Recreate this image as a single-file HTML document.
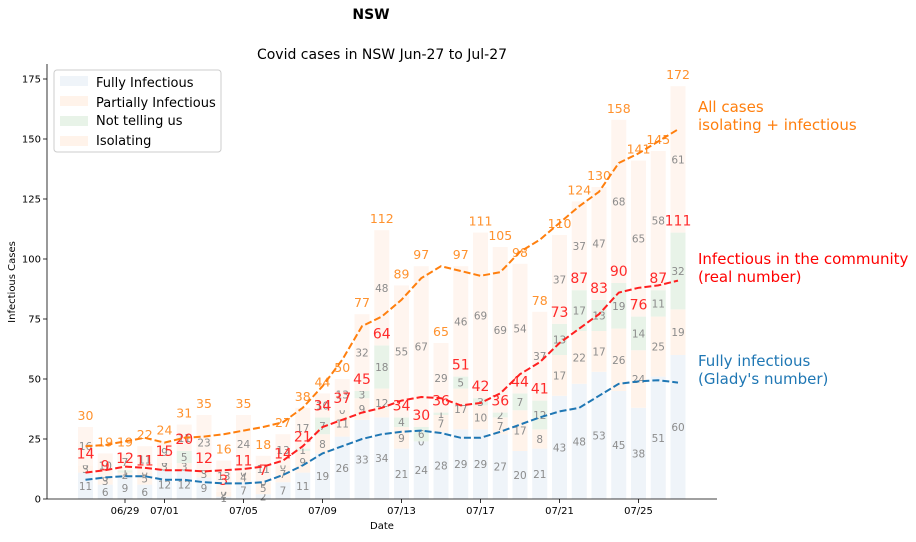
<!DOCTYPE html>
<html><head><meta charset="utf-8"><style>
body{margin:0;background:#fff;font-family:"Liberation Sans","DejaVu Sans",sans-serif}
svg text{font-family:"DejaVu Sans","Liberation Sans",sans-serif}
</style></head><body>
<svg id="c" width="916" height="537">
<text x="371" y="19" font-size="14" font-weight="bold" text-anchor="middle">NSW</text>
<text x="382" y="59" font-size="14" text-anchor="middle">Covid cases in NSW Jun-27 to Jul-27</text>
<text x="382" y="529" font-size="10" text-anchor="middle">Date</text>
<text transform="translate(15,282) rotate(-90)" font-size="10" text-anchor="middle">Infectious Cases</text>
<g id="bars"></g><g id="lines"></g><g id="axes"></g>
<g>
<rect x="54" y="70" width="167" height="82" fill="#fff" stroke="#ccc" rx="3"/>
<rect x="60" y="76" width="28" height="10" fill="#eff4f9"/><text x="96" y="87" font-size="13">Fully Infectious</text>
<rect x="60" y="96" width="28" height="10" fill="#fff3ea"/><text x="96" y="107" font-size="13">Partially Infectious</text>
<rect x="60" y="116" width="28" height="10" fill="#e8f3e8"/><text x="96" y="125" font-size="13">Not telling us</text>
<rect x="60" y="136" width="28" height="10" fill="#fff3ea"/><text x="96" y="145" font-size="13">Isolating</text>
</g>
<g font-size="15">
<text x="698" y="112" fill="#ff7f0e">All cases</text>
<text x="698" y="130" fill="#ff7f0e">isolating + infectious</text>
<text x="698" y="264" fill="#ff0000">Infectious in the community</text>
<text x="698" y="282" fill="#ff0000">(real number)</text>
<text x="698" y="366" fill="#1f77b4">Fully infectious</text>
<text x="698" y="384" fill="#1f77b4">(Glady's number)</text>
</g>
</svg>
<script>
const fully=[11,6,9,6,12,12,9,1,7,2,7,11,19,26,33,34,21,24,28,29,29,27,20,21,43,48,53,45,38,51,60];
const partial=[3,3,2,5,3,3,3,2,4,5,7,9,8,11,9,12,9,0,7,17,10,7,17,8,17,22,17,26,24,25,19];
const notTelling=[0,0,1,0,0,5,0,0,0,0,0,1,7,0,3,18,4,6,1,5,3,2,7,12,13,17,13,19,14,11,32];
const isolating=[16,10,7,11,9,11,23,13,24,11,13,17,10,13,32,48,55,67,29,46,69,69,54,37,37,37,47,68,65,58,61];
const avgFully=[8,9,9.5,9.5,8,8,7,6.5,6.5,7,10,14,19,22,25,27,28,28.5,27.5,25.5,25.5,28,31,34,36.5,38,43,48,49,49.5,48.5];
const avgInfectious=[11,12,13.5,13,12,12,11.5,12,12.5,13.5,16,22,30,33,36,38,41,42.5,42,39,40,44,52,57,65,71,77,86,88,89,91];
const avgTotal=[22,22.5,24,25.5,23.5,25.5,26,27,28.5,30,32,38,47,58,72,76,83,92,97,95,93,94.5,103,108,115,122,128,140,144,149,154];
const tickDays=[2,4,8,12,16,20,24,28];
const tickLabels=["06/29","07/01","07/05","07/09","07/13","07/17","07/21","07/25"];
const yTicks=[0,25,50,75,100,125,150,175];
const NS="http://www.w3.org/2000/svg";
const X=d=>85.5+d*19.75, Y=v=>499-v*2.4;
function mk(t,a,p){const e=document.createElementNS(NS,t);for(const k in a)e.setAttribute(k,a[k]);p.appendChild(e);return e;}
const B=document.getElementById('bars'),L=document.getElementById('lines'),A=document.getElementById('axes');
const cols=['#eff4f9','#fff3ea','#e8f3e8','#fff5ef'];
const series=[fully,partial,notTelling,isolating];
for(let d=0;d<fully.length;d++){
  let base=0;
  for(let s=0;s<4;s++){
    const v=series[s][d];
    const r=mk('rect',{x:X(d)-7.5,y:Y(base+v),width:15,height:v*2.4,fill:cols[s]},B);
    
    
    const t=mk('text',{x:X(d),y:Y(base+v/2)+4,'font-size':10.5,fill:'#8c8c8c','text-anchor':'middle'},B);
    t.textContent=v;
    base+=v;
  }
  const inf=fully[d]+partial[d]+notTelling[d];
  const t1=mk('text',{x:X(d),y:Y(inf)-7,'font-size':14,fill:'#ff2a2a','text-anchor':'middle'},B);
  
  t1.textContent=inf;
  const t2=mk('text',{x:X(d),y:Y(base)-7,'font-size':12.5,fill:'#ff922e','text-anchor':'middle'},B);
  
  t2.textContent=base;
}
[[avgTotal,'#ff7f0e','avg-total-line'],[avgInfectious,'#ff2020','avg-infectious-line'],[avgFully,'#1f77b4','avg-fully-line']].forEach(([arr,c,n])=>{
  const p=mk('polyline',{points:arr.map((v,i)=>X(i)+','+Y(v)).join(' '),fill:'none',stroke:c,'stroke-width':2,'stroke-dasharray':'7,3'},L);
  
  
});
mk('line',{x1:47,y1:64,x2:47,y2:499,stroke:'#000','stroke-width':0.8},A);
mk('line',{x1:47,y1:499,x2:717,y2:499,stroke:'#000','stroke-width':0.8},A);
yTicks.forEach(v=>{
  mk('line',{x1:43,y1:Y(v),x2:47,y2:Y(v),stroke:'#000','stroke-width':0.8},A);
  const t=mk('text',{x:41,y:Y(v)+3.5,'font-size':10,'text-anchor':'end'},A);
  
  t.textContent=v;
});
tickDays.forEach((d,i)=>{
  mk('line',{x1:X(d),y1:499,x2:X(d),y2:503,stroke:'#000','stroke-width':0.8},A);
  const t=mk('text',{x:X(d),y:514,'font-size':10,'text-anchor':'middle'},A);
  
  t.textContent=tickLabels[i];
});
</script>
</body></html>
